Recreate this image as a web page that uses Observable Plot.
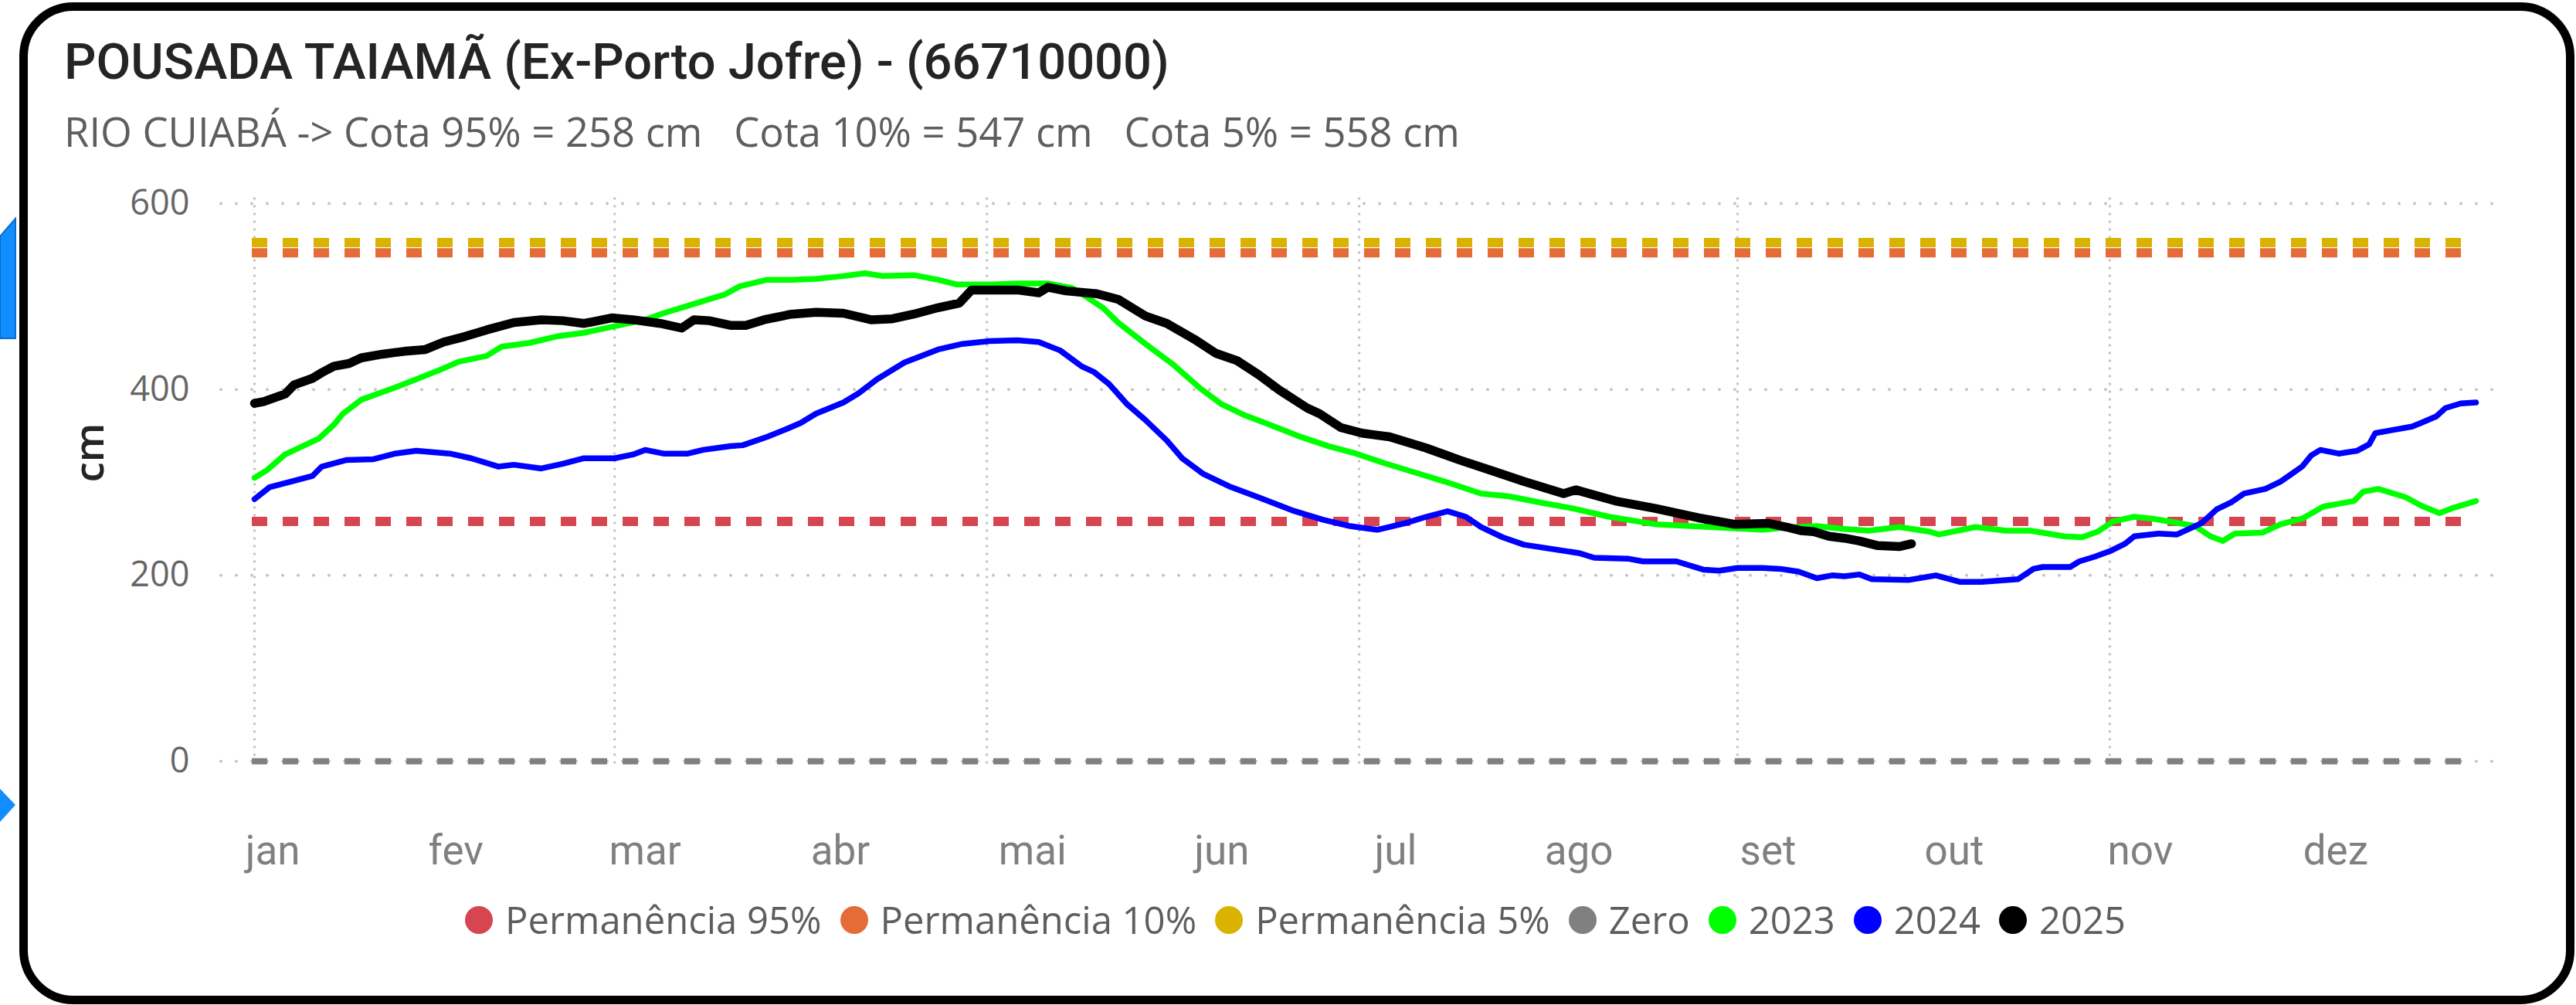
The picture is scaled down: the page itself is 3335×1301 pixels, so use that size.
<!DOCTYPE html>
<html>
<head>
<meta charset="utf-8">
<script src="https://cdn.jsdelivr.net/npm/d3@7"></script>
<script src="https://cdn.jsdelivr.net/npm/@observablehq/plot@0.6"></script>
<style>
html, body { margin: 0; padding: 0; background: #fff; }
body { width: 3335px; height: 1301px; position: relative; overflow: hidden; font-family: "Open Sans", sans-serif; }
#frame { position: absolute; left: 25px; top: 3px; width: 3308px; height: 1297px; box-sizing: border-box; border: 11px solid #000; border-radius: 70px; }
#deco { position: absolute; left: 0; top: 0; }
#titles { position: absolute; left: 0; top: 0; }
#chart { position: absolute; left: 0; top: 220px; width: 3335px; }
#legend { position: absolute; left: 1677px; top: 1166px; transform: translateX(-50%); display: flex; align-items: center; white-space: nowrap; font-family: "Open Sans", sans-serif; font-size: 49px; line-height: 49px; color: #605E5C; }
.item { display: flex; align-items: center; }
.item + .item { margin-left: 24px; }
.dot { width: 36px; height: 36px; border-radius: 50%; margin-right: 16px; flex: none; }
</style>
</head>
<body>
<div id="frame"></div>
<svg id="deco" width="40" height="1301">
  <polygon points="0,306 20,283 20,438 0,438" fill="#118DFF" stroke="#0B6BD0" stroke-width="2"/>
  <polygon points="0,1021 20,1042 0,1064" fill="#118DFF"/>
</svg>
<svg id="titles" width="3335" height="220"></svg>
<div id="chart"></div>
<div id="legend"></div>
<script>
// ---------- data ----------
const titleText = "POUSADA TAIAMÃ (Ex-Porto Jofre) - (66710000)";
const riverName = "RIO CUIABÁ";

const legendNames  = ["Permanência 95%", "Permanência 10%", "Permanência 5%", "Zero", "2023", "2024", "2025"];
const legendColors = ["#D64550", "#E66C37", "#D9B300", "#808080", "#00FF00", "#0000FF", "#000000"];

const refNames  = ["Permanência 95%", "Permanência 10%", "Permanência 5%", "Zero"];
const refValues = [258, 547, 558, 0];

// month labels and the day (of year) under each label's centre
const monthLabels = ["jan", "fev", "mar", "abr", "mai", "jun", "jul", "ago", "set", "out", "nov", "dez"];
const monthLabelDays = [3, 33, 64, 96, 127.5, 158.5, 187, 217, 248, 278.5, 309, 341];
const gridMonths  = [0, 59, 120, 181, 243, 304];
const yTicks = [0, 200, 400, 600];
const dayDomain = [0, 364];

const days2023 = [0, 2, 5, 10.5, 13, 14.5, 17.5, 23, 26.5, 30, 33.5, 38, 40.5, 45, 49.5, 54, 59, 64, 67, 71, 74.5, 77, 79.5, 84, 88, 92, 96.5, 100, 103, 108, 112, 115, 121, 125, 130, 134, 136, 139, 141.5, 146, 150.5, 155, 158.5, 162, 166, 171, 176, 180.5, 185, 190.5, 195, 201, 205.5, 211, 216, 222, 229.5, 238.5, 247, 250, 256, 260.5, 264.5, 269.5, 274.5, 276, 282, 287, 291, 296.5, 299.5, 302, 304.5, 308, 311, 315.5, 318, 320.5, 322.5, 324.5, 329, 332, 335.5, 339, 341.5, 344, 345.5, 348, 352.5, 355, 358, 360, 364];
const cota2023 = [305, 313, 330, 347, 362, 374, 389, 402, 411, 420, 430, 436, 446, 450, 457, 461, 468, 475, 482, 490, 497, 502, 511, 518, 518, 519, 522, 525, 522, 523, 518, 513, 513, 514, 514, 509, 501, 488, 472, 449, 427, 401, 384, 373, 363, 350, 339, 331, 321, 310, 301, 288, 285, 278, 272, 263, 255, 252, 249, 251, 253, 250, 248, 252, 247, 244, 252, 248, 248, 242, 241, 247, 258, 263, 261, 256, 253, 242, 237, 245, 246, 255, 261, 274, 277, 280, 290, 293, 284, 275, 267, 272, 280];

const days2024 = [0, 2.5, 6, 9.5, 11, 15, 19.5, 23, 26.5, 32, 35.5, 40, 42.5, 47, 50.5, 54, 59, 62, 64, 67, 71, 73.5, 78, 80, 84, 87, 89.5, 92, 96.5, 99, 102, 106.5, 112, 116, 120.5, 125, 128.5, 132, 135.5, 137.5, 140, 143, 146, 149.5, 152, 155.5, 160, 164.5, 170, 175, 179.5, 184, 188.5, 192, 195.5, 198.5, 201, 204.5, 208, 217, 219.5, 225, 227.5, 233, 237.5, 240, 243, 247, 250, 253, 256, 258.5, 260.5, 263, 265, 271, 275.5, 279.5, 283, 289, 291.5, 293, 297.5, 299, 301.5, 304, 306.5, 308, 312, 315, 319, 321.5, 324, 326, 329.5, 332, 334, 335.5, 337, 338.5, 341.5, 344.5, 346.5, 347.5, 350, 353.5, 355, 357.5, 359, 361.5, 364];
const cota2024 = [282, 295, 301, 307, 317, 324, 325, 331, 334, 331, 326, 317, 319, 315, 320, 326, 326, 330, 335, 331, 331, 335, 339, 340, 349, 357, 364, 374, 386, 396, 411, 429, 443, 449, 452, 453, 451, 442, 425, 419, 406, 384, 367, 345, 326, 309, 295, 284, 270, 260, 253, 249, 256, 263, 269, 263, 252, 241, 233, 224, 219, 218, 215, 215, 206, 205, 208, 208, 207, 204, 197, 200, 199, 201, 196, 195, 200, 193, 193, 196, 207, 209, 209, 215, 220, 226, 234, 242, 245, 244, 256, 271, 279, 288, 293, 301, 310, 317, 329, 335, 331, 334, 341, 353, 356, 360, 364, 371, 380, 385, 386];

const days2025 = [0, 1.5, 5, 6.5, 9.5, 11, 13, 15.5, 17.5, 21, 24.5, 28, 31, 34.5, 38, 42.5, 47, 50.5, 54, 58.5, 62, 66.5, 70, 72, 74.5, 78, 80.5, 83.5, 88, 92, 96.5, 101, 104.5, 108, 112, 115.5, 117.5, 121, 125, 128.5, 130, 133, 138, 141.5, 146, 149.5, 154, 157.5, 161, 164.5, 168, 172.5, 174.5, 178, 181.5, 186, 192, 197.5, 203, 208, 214.5, 216.5, 223, 229.5, 236.5, 242.5, 248, 251, 253.5, 255.5, 258, 260.5, 263, 266, 269.5, 271.5];
const cota2025 = [385, 387, 395, 405, 412, 418, 425, 428, 434, 438, 441, 443, 451, 457, 464, 472, 475, 474, 471, 477, 475, 471, 466, 475, 474, 469, 469, 475, 481, 483, 482, 475, 476, 481, 488, 493, 507, 507, 507, 504, 510, 506, 503, 497, 479, 471, 454, 439, 431, 416, 399, 380, 374, 359, 353, 349, 337, 324, 312, 301, 288, 292, 280, 272, 262, 255, 256, 252, 248, 247, 242, 240, 237, 232, 231, 234];

// ---------- build tables ----------
const toRows = (name, days, vals) => days.map((d, i) => ({series: name, day: d, value: vals[i]}));
const rows2023 = toRows("2023", days2023, cota2023);
const rows2024 = toRows("2024", days2024, cota2024);
const rows2025 = toRows("2025", days2025, cota2025);
const refRows = refNames.map((n, i) => ({name: n, value: refValues[i]}));
const pctRows = refRows.filter(r => r.name !== "Zero");
const zeroRows = refRows.filter(r => r.name === "Zero");

// ---------- titles ----------
const NS = "http://www.w3.org/2000/svg";
const titles = document.getElementById("titles");
function addText(txt, x, y, attrs) {
  const t = document.createElementNS(NS, "text");
  t.setAttribute("x", x); t.setAttribute("y", y);
  t.setAttributeNS("http://www.w3.org/XML/1998/namespace", "xml:space", "preserve");
  for (const k in attrs) t.setAttribute(k, attrs[k]);
  t.style.whiteSpace = "pre";
  t.textContent = txt;
  titles.appendChild(t);
}
addText(titleText, 83, 102, {"font-family": "Roboto", "font-size": 65, "font-weight": 500, "fill": "#252423"});
addText(`${riverName} -> Cota 95% = ${refValues[0]} cm   Cota 10% = ${refValues[1]} cm   Cota 5% = ${refValues[2]} cm`,
        83, 190, {"font-family": "Open Sans", "font-size": 52.5, "fill": "#605E5C"});

// ---------- chart ----------
const chart = Plot.plot({
  width: 3335,
  height: 920,
  marginTop: 43,
  marginBottom: 155,
  marginLeft: 329,
  marginRight: 130,
  x: {domain: dayDomain},
  y: {domain: [0, 600]},
  color: {domain: legendNames, range: legendColors},
  style: {background: "transparent", overflow: "visible"},
  marks: [
    Plot.ruleY(yTicks, {stroke: "#c4c4c4", strokeWidth: 4, strokeDasharray: "0 20", strokeLinecap: "round", insetLeft: -43, insetRight: -22}),
    Plot.ruleX(gridMonths, {stroke: "#c4c4c4", strokeWidth: 3.5, strokeDasharray: "0 10", strokeLinecap: "round", insetTop: -6, insetBottom: -5}),
    Plot.axisY({ticks: yTicks, tickSize: 0, tickPadding: 84, fontSize: 45, color: "#666666", fontFamily: "Open Sans", label: null}),
    Plot.axisX({ticks: monthLabelDays, tickFormat: d => monthLabels[monthLabelDays.indexOf(d)], tickSize: 0, tickPadding: 96,
                fontSize: 53, color: "#808080", fontFamily: "Roboto", label: null}),
    Plot.text(["cm"], {frameAnchor: "left", dx: -212, rotate: -90, fontSize: 53, fontWeight: 600, fill: "#252423", fontFamily: "Open Sans"}),
    Plot.ruleY(zeroRows, {y: "value", stroke: "name", strokeWidth: 8, strokeDasharray: "20 20", insetLeft: -3}),
    Plot.ruleY(pctRows, {y: "value", stroke: "name", strokeWidth: 12, strokeDasharray: "20 20", insetLeft: -3}),
    Plot.line(rows2023, {x: "day", y: "value", stroke: "series", strokeWidth: 7.5}),
    Plot.line(rows2024, {x: "day", y: "value", stroke: "series", strokeWidth: 7.5}),
    Plot.line(rows2025, {x: "day", y: "value", stroke: "series", strokeWidth: 11.5})
  ]
});
document.getElementById("chart").appendChild(chart);

// ---------- legend ----------
const legend = document.getElementById("legend");
legendNames.forEach((n, i) => {
  const item = document.createElement("div");
  item.className = "item";
  const dot = document.createElement("span");
  dot.className = "dot";
  dot.style.background = legendColors[i];
  const lab = document.createElement("span");
  lab.textContent = n;
  item.appendChild(dot); item.appendChild(lab);
  legend.appendChild(item);
});
</script>
</body>
</html>
